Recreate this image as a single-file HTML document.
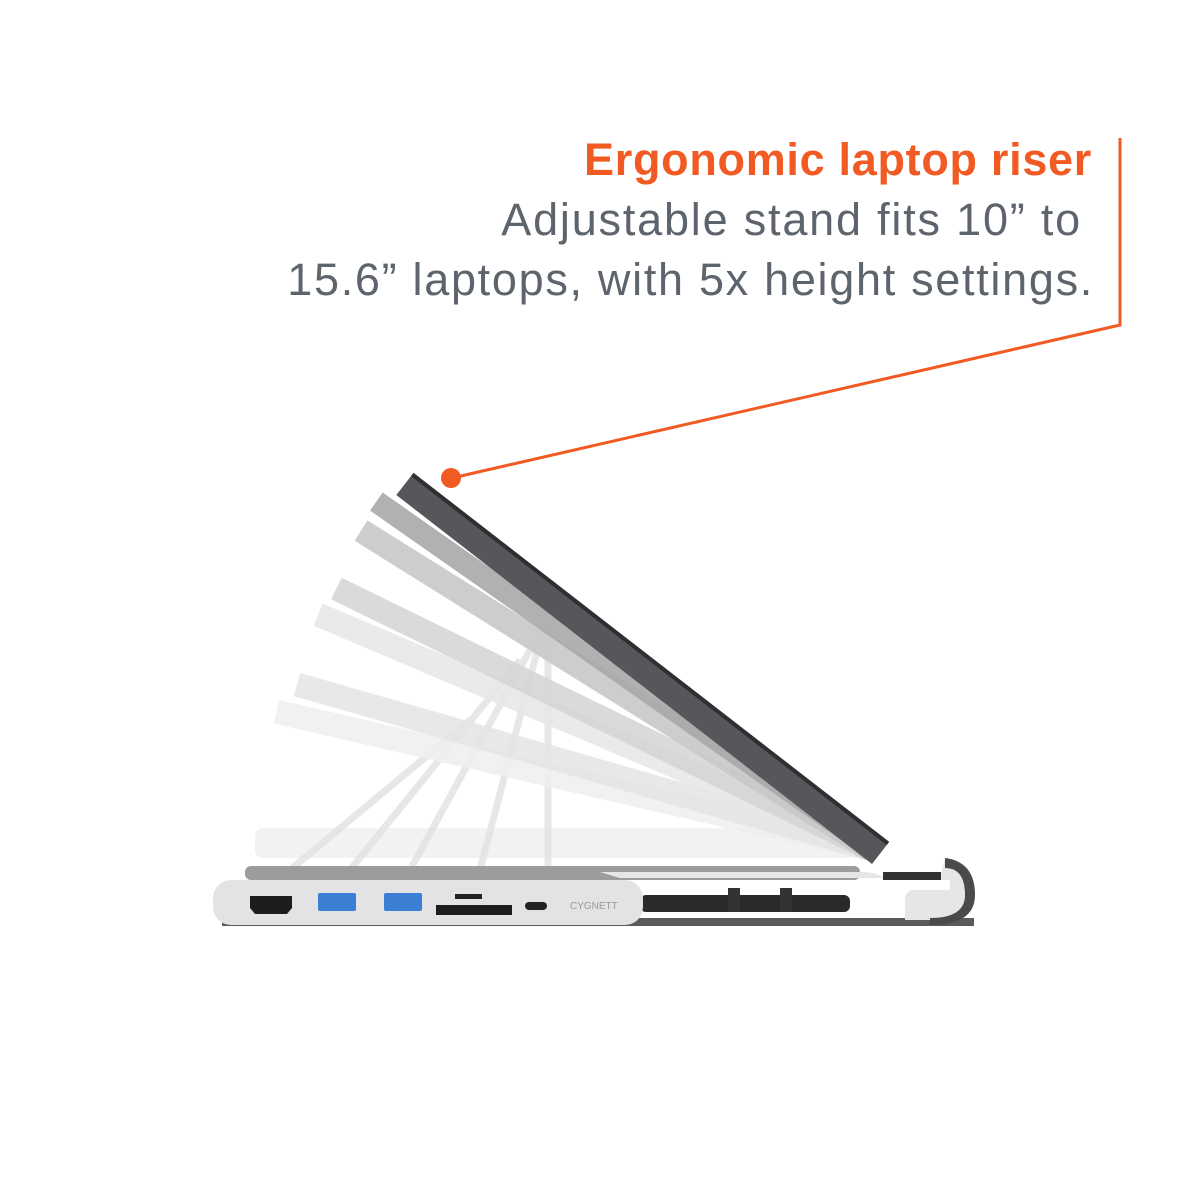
<!DOCTYPE html>
<html><head><style>
html,body{margin:0;padding:0;background:#fff;}
body{width:1188px;height:1188px;position:relative;overflow:hidden;font-family:"Liberation Sans",sans-serif;}
.t{position:absolute;right:96px;white-space:nowrap;font-size:45px;line-height:1;}
</style></head><body>
<div class="t" style="top:137px;color:#f15a22;font-weight:bold;letter-spacing:0.7px;">Ergonomic laptop riser</div>
<div class="t" style="top:197px;right:106px;color:#5d646c;letter-spacing:1.8px;">Adjustable stand fits 10” to</div>
<div class="t" style="top:257px;right:94px;color:#5d646c;letter-spacing:1.7px;">15.6” laptops, with 5x height settings.</div>
<svg width="1188" height="1188" style="position:absolute;left:0;top:0">
<polyline points="1120,138 1120,325 452,478" fill="none" stroke="#f15a22" stroke-width="3"/>
<circle cx="451" cy="478" r="10" fill="#f15a22"/>
<rect x="255" y="828" width="600" height="30" rx="8" fill="#f2f2f2"/>
<g stroke="#e2e2e2" stroke-width="7" opacity="0.8" fill="none">
<line x1="290" y1="870" x2="470" y2="720"/>
<line x1="350" y1="870" x2="520" y2="660"/>
<line x1="410" y1="870" x2="530" y2="650"/>
<line x1="480" y1="870" x2="540" y2="640"/>
<line x1="548" y1="870" x2="548" y2="640"/>
</g>
<g>
<g transform="rotate(13 865 862)"><rect x="258" y="836" width="607" height="24" fill="#eeeeee" opacity="0.85"/></g>
<g transform="rotate(16 865 862)"><rect x="270" y="836" width="595" height="24" fill="#e4e4e4" opacity="0.85"/></g>
<g transform="rotate(23 865 862)"><rect x="265" y="836" width="600" height="24" fill="#e6e6e6" opacity="0.85"/></g>
<g transform="rotate(26 865 862)"><rect x="270" y="836" width="595" height="24" fill="#d4d4d4" opacity="0.85"/></g>
<g transform="rotate(32 865 862)"><rect x="262" y="836" width="603" height="24" fill="#c8c8c8" opacity="0.9"/></g>
<g transform="rotate(35 865 862)"><rect x="258" y="836" width="607" height="22" fill="#a8a8a8" opacity="0.9"/></g>
<g transform="rotate(37.8 872 864)"><rect x="270" y="836" width="602" height="28" fill="#55575b"/><rect x="270" y="836" width="602" height="4" fill="#2e2f31"/></g>
</g>
<rect x="222" y="918" width="752" height="8" fill="#5a5a5a"/>
<rect x="245" y="866" width="615" height="14" rx="6" fill="#9c9c9c"/>
<path d="M600 872 L860 872 Q880 872 885 880 L950 880 L950 890 L915 890 Q905 890 905 900 L905 920 L930 920 Q975 920 975 895 Q975 860 945 858 L940 878 L620 878 Z" fill="#e6e6e6"/>
<path d="M945 858 Q975 862 975 895 Q975 925 930 925 L930 918 Q965 918 965 895 Q965 868 945 868 Z" fill="#4a4a4a"/>
<rect x="883" y="872" width="58" height="8" fill="#333"/>
<rect x="640" y="895" width="210" height="17" rx="6" fill="#2a2a2a"/>
<rect x="728" y="888" width="12" height="24" fill="#333"/><rect x="780" y="888" width="12" height="24" fill="#333"/>
<rect x="213" y="880" width="430" height="45" rx="18" fill="#e3e3e5"/>
<path d="M250 896 h42 v12 l-5 6 h-32 l-5 -6z" fill="#1d1d1d"/>
<rect x="318" y="893" width="38" height="18" rx="2" fill="#3b7fd4"/>
<rect x="384" y="893" width="38" height="18" rx="2" fill="#3b7fd4"/>
<rect x="455" y="894" width="27" height="5" fill="#222"/>
<rect x="436" y="905" width="76" height="10" fill="#1d1d1d"/>
<rect x="525" y="902" width="22" height="8" rx="4" fill="#222"/>
<text x="570" y="909" font-size="10" fill="#999" font-family="Liberation Sans,sans-serif">CYGNETT</text>
</svg>
</body></html>
